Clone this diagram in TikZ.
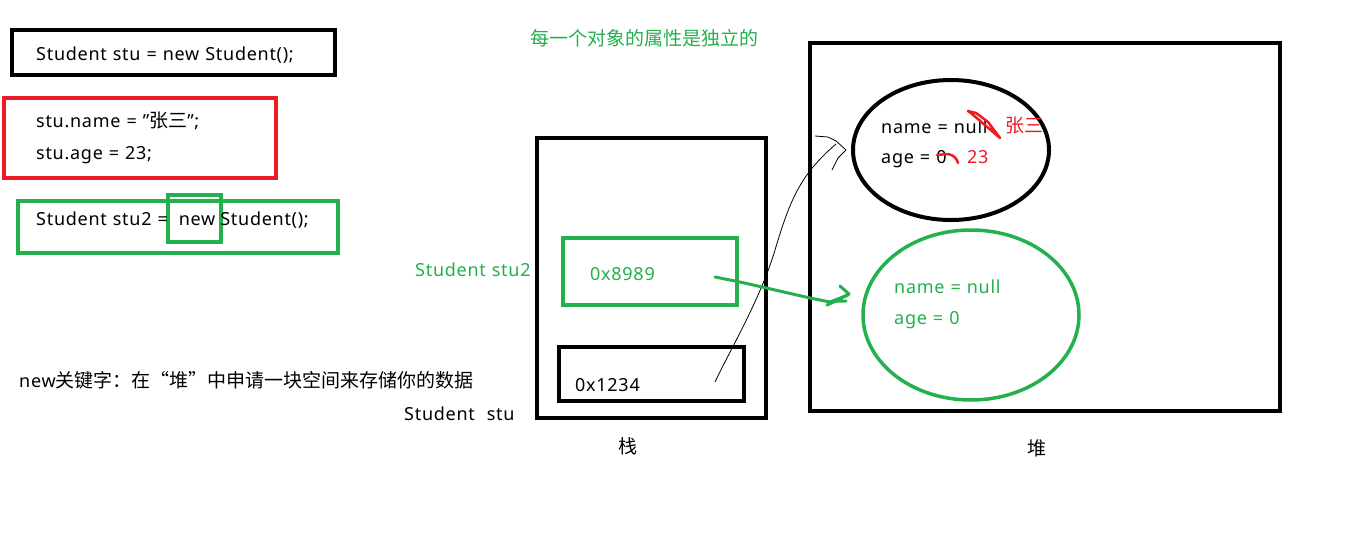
\documentclass[tikz,border=0pt]{standalone}
\usepackage{fontspec}
\usetikzlibrary{shapes.geometric}
\setmainfont{Noto Sans}[LetterSpace=4]
\newfontfamily\cjkfont{Noto Sans CJK SC}
\newcommand\zh[1]{{\cjkfont\fontsize{19}{21}\selectfont #1}}
\newcommand\codefont{\fontsize{18}{20}\selectfont\spaceskip 6pt plus 1pt\relax}
\definecolor{pgreen}{RGB}{34,177,76}
\definecolor{pred}{RGB}{237,28,36}
\begin{document}
\begin{tikzpicture}[x=1pt,y=-1pt,
  box/.style={draw, line width=4pt, inner sep=0pt},
  gbox/.style={box, draw=pgreen},
  rbox/.style={box, draw=pred},
  txt/.style={font=\codefont, inner sep=0pt, anchor=west},
  gtxt/.style={txt, text=pgreen},
  rtxt/.style={txt, text=pred},
  thin/.style={line width=0.8pt},
  garrow/.style={draw=pgreen, line width=3pt, line cap=round, line join=round},
  scrib/.style={draw=pred, line width=2.5pt, line cap=round, line join=round}]
\useasboundingbox[fill=white] (0,0) rectangle (1352,539);

% code boxes
\node[box, minimum width=323pt, minimum height=45pt] (b1) at (173.5,52.5) {};
\node[txt] (t1) at (36,55) {Student stu = new Student();};
\node[rbox, minimum width=272pt, minimum height=80pt] (b2) at (140,138) {};
\node[txt] (t2) at (36,121) {stu.name = "\zh{张三}";};
\node[txt] (t3) at (36,155) {stu.age = 23;};
\node[gbox, minimum width=320pt, minimum height=52pt] (b3) at (178,227) {};
\node[gbox, minimum width=53pt, minimum height=47pt] (bnew) at (194.5,218.5) {};
\node[txt] (t4) at (36,220) {Student stu2 =\hspace{11pt}new\hspace{5pt}Student();};

\node[gtxt] (title) at (530,38) {\zh{每一个对象的属性是独立的}};
\node[txt] (note) at (19,380) {new\zh{关键字：在“堆”中申请一块空间来存储你的数据}};

% stack
\node[box, minimum width=229pt, minimum height=280pt] (stack) at (651.5,278) {};
\node[gbox, minimum width=174pt, minimum height=67pt] (s2box) at (650,271.5) {};
\node[gtxt] (v2) at (590,274) {0x8989};
\node[box, minimum width=185pt, minimum height=54pt] (s1box) at (651.5,374) {};
\node[txt] (v1) at (575,385) {0x1234};
\node[gtxt] (l2) at (415,270) {Student stu2};
\node[txt] (l1) at (404,414) {Student\hspace{12pt}stu};
\node[txt] (zhan) at (618,446) {\zh{栈}};

% heap
\node[box, minimum width=470pt, minimum height=368pt] (heap) at (1045,227) {};
\node[txt] (dui) at (1027,448) {\zh{堆}};
\node[draw, ellipse, line width=4pt, minimum width=196pt, minimum height=140pt, inner sep=0pt] (o1) at (951,150) {};
\node[draw=pgreen, ellipse, line width=3.5pt, minimum width=216pt, minimum height=170pt, inner sep=0pt] (o2) at (971,315) {};
\node[txt] (n1) at (881,127) {name = null};
\node[txt] (a1) at (881,159) {age = 0};
\node[rtxt] (z1) at (1005,126) {\zh{张三}};
\node[rtxt] (z2) at (967,157) {23};
\node[gtxt] (n2) at (894,287) {name = null};
\node[gtxt] (a2) at (894,320) {age = 0};

% red scribbles
\draw[scrib] (968,111) -- (976,113) -- (988,122) -- (1000,138) -- (986,126) -- (972,114) -- (968,111);
\draw[scrib] (937,155) -- (948,154) .. controls (954,155) and (957,159) .. (958,163);

% connectors
\coordinate (c1) at (715,382);
\coordinate (c1e) at (836,144);
\draw[thin] (c1) .. controls (730,350) and (760,300) .. (775,250)
  .. controls (790,200) and (800,175) .. (c1e);
\draw[thin, line join=round] (815,136) -- (828,137) -- (836,141) -- (846,150) -- (838,158) -- (832,170);

\coordinate (c2) at (715,277);
\coordinate (c2e) at (848,295);
\draw[garrow] (c2) -- (740,282) -- (762,287) -- (810,298) -- (830,302) -- (c2e);
\draw[garrow] (840,286) -- (849,294) -- (836,301) -- (846,301);
\draw[garrow] (836,301) -- (827,305);
\end{tikzpicture}
\end{document}
